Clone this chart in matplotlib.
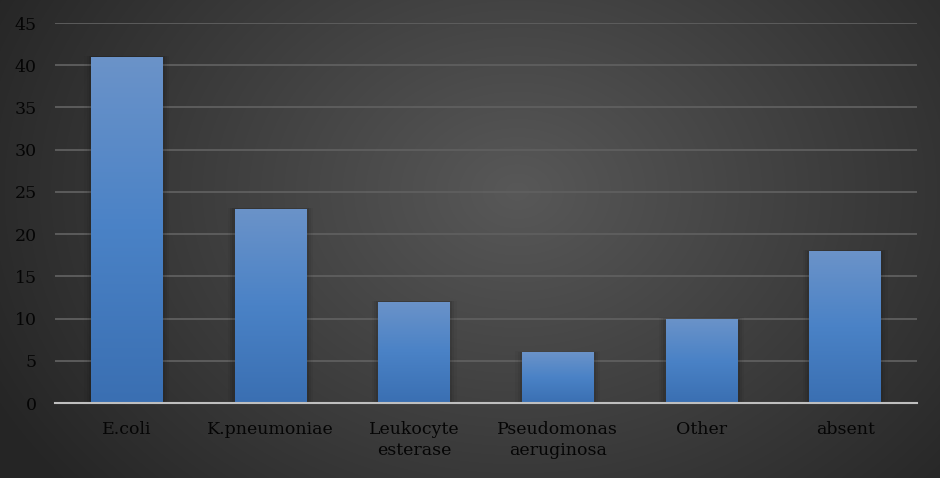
import numpy as np
import matplotlib
matplotlib.use("Agg")
import matplotlib.pyplot as plt
from matplotlib.colors import LinearSegmentedColormap

categories = ["E.coli", "K.pneumoniae", "Leukocyte\nesterase", "Pseudomonas\naeruginosa", "Other", "absent"]
values = [41, 23, 12, 6, 10, 18]
yticks = [0, 5, 10, 15, 20, 25, 30, 35, 40, 45]

W, H, DPI = 940, 478, 100
fig = plt.figure(figsize=(W / DPI, H / DPI), dpi=DPI)

# radial gradient background
bg = fig.add_axes([0, 0, 1, 1], zorder=0)
yy, xx = np.mgrid[0:H, 0:W]
cx, cy = W * 0.55, H * 0.40
r = np.sqrt(((xx - cx) / (W * 0.62)) ** 2 + ((yy - cy) / (H * 0.95)) ** 2)
r = np.clip(r, 0, 1)
c0 = np.array([0x58, 0x58, 0x58]) / 255
c1 = np.array([0x26, 0x26, 0x26]) / 255
img = c0[None, None, :] * (1 - r[..., None]) + c1[None, None, :] * r[..., None]
bg.imshow(img, aspect="auto", extent=[0, 1, 0, 1], origin="upper")
bg.axis("off")

ax = fig.add_axes([55 / W, 1 - 403 / H, (917 - 55) / W, 380 / H], zorder=1)
ax.set_facecolor("none")
x = np.arange(len(categories))
bars = ax.bar(x, values, width=0.5, color="#4a80c4", zorder=3, linewidth=0)

cmap = LinearSegmentedColormap.from_list("bar", ["#3a6fb2", "#4a82c6", "#6b93c9"])
grad = np.linspace(0, 1, 256).reshape(-1, 1)
for b in bars:
    x0, w, h = b.get_x(), b.get_width(), b.get_height()
    # soft shadow
    for k, a in [(0.045, 0.04), (0.03, 0.06), (0.015, 0.08)]:
        ax.add_patch(plt.Rectangle((x0 - k, 0), w + 2 * k, h + k * 3,
                                   color="black", alpha=a, lw=0, zorder=2))
    im = ax.imshow(grad, cmap=cmap, origin="lower", aspect="auto",
                   extent=[x0, x0 + w, 0, h], zorder=3)
    im.set_clip_path(b)

ax.set_xlim(-0.5, len(categories) - 0.5)
ax.set_ylim(0, 45)
ax.set_yticks(yticks)
ax.set_xticks(x)
ax.set_xticklabels(categories)
ax.yaxis.grid(True, color="#5f5f5f", linewidth=1.3, zorder=1)
ax.set_axisbelow(True)
for s in ["top", "right", "left"]:
    ax.spines[s].set_visible(False)
ax.spines["bottom"].set_color("#bfbfbf")
ax.spines["bottom"].set_linewidth(1.5)
ax.spines["bottom"].set_zorder(4)
ax.tick_params(axis="both", length=0, labelsize=12.5, labelcolor="#050505")
ax.tick_params(axis="x", pad=13)
ax.tick_params(axis="y", pad=13)
for lab in ax.get_xticklabels() + ax.get_yticklabels():
    lab.set_family(["DejaVu Serif"])
for lab in ax.get_xticklabels():
    lab.set_linespacing(1.3)
    lab.set_verticalalignment("top")

fig.savefig("out.png", dpi=DPI)
